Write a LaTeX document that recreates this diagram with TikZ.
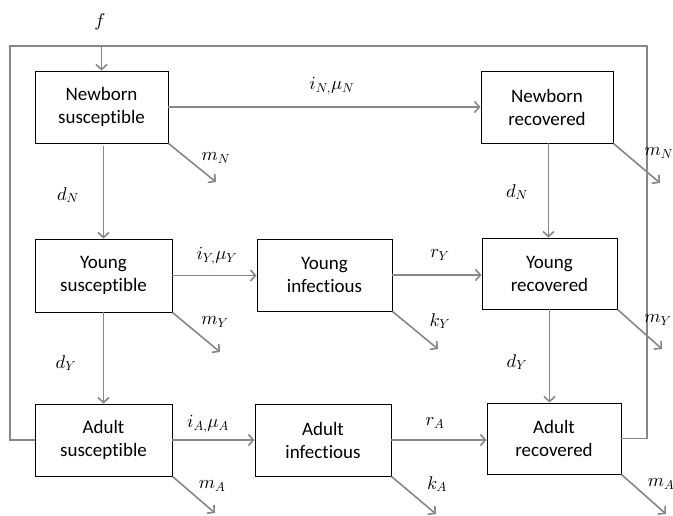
\documentclass[tikz,border=0pt]{standalone}
\usepackage{fontspec}
\setmainfont{Carlito}[Ligatures=CommonOff]
\DeclareFontFamily{OML}{cmm}{\skewchar\font'177}
\DeclareFontShape{OML}{cmm}{m}{it}{<->cmmi10}{}
\DeclareFontFamily{OMS}{cmsy}{\skewchar\font'60}
\DeclareFontShape{OMS}{cmsy}{m}{n}{<->cmsy10}{}
\usetikzlibrary{arrows.meta,calc}
\definecolor{arrgray}{HTML}{878787}
\tikzset{
  box/.style={draw=black, line width=0.9pt, rectangle, inner sep=0pt, align=center,
    font=\fontsize{19}{23}\selectfont},
  flow/.style={draw=arrgray, line width=1.6pt, -{Straight Barb[length=5pt,width=11pt]}},
  loopline/.style={draw=arrgray, line width=1.6pt},
  lbl/.style={inner sep=0pt, font=\fontsize{18.5}{21}\selectfont}
}
\begin{document}
\begin{tikzpicture}[x=1pt,y=-1pt]
\useasboundingbox (0,0) rectangle (673,515);
% boxes
\node[box, minimum width=133pt, minimum height=72pt] (NS) at (101.5,107) {Newborn\\susceptible};
\node[box, minimum width=132pt, minimum height=72pt] (NR) at (547,107) {Newborn\\recovered};
\node[box, minimum width=137pt, minimum height=73pt] (YS) at (103.5,275.5) {Young\\susceptible};
\node[box, minimum width=135pt, minimum height=72pt] (YI) at (324.5,275) {Young\\infectious};
\node[box, minimum width=135pt, minimum height=71pt] (YR) at (549.5,273.5) {Young\\recovered};
\node[box, minimum width=137pt, minimum height=72pt] (AS) at (103.5,440) {Adult\\susceptible};
\node[box, minimum width=136pt, minimum height=72pt] (AI) at (323,440) {Adult\\infectious};
\node[box, minimum width=134pt, minimum height=71pt] (AR) at (554,438.5) {Adult\\recovered};
% loop corners and free ends
\coordinate (c1) at (10,46);
\coordinate (c2) at (647,46);
\coordinate (eNSm) at (216,182);
\coordinate (eNRm) at (660,183);
\coordinate (eYSm) at (220,352);
\coordinate (eYIk) at (438,349);
\coordinate (eYRm) at (662,349);
\coordinate (eASm) at (215,513);
\coordinate (eAIk) at (436,514);
\coordinate (eARm) at (666,514);
% feedback loop
\draw[loopline] (AS.west) -| (c1) -- (c2) |- (AR.east);
\draw[flow] (NS.north |- c1) -- (NS.north);
% horizontal flows
\draw[flow] (NS.east) -- (NR.west);
\draw[flow] (YS.east) -- (YS.east -| YI.west);
\draw[flow] (YI.east) -- (YI.east -| YR.west);
\draw[flow] (AS.east) -- (AS.east -| AI.west);
\draw[flow] (AI.east) -- (AI.east -| AR.west);
% vertical flows
\draw[flow, shorten <=3pt] ([xshift=2pt]NS.south) -- ([xshift=2pt]NS.south |- YS.north);
\draw[flow] ([xshift=1.5pt]NR.south) -- ([xshift=1.5pt]NR.south |- YR.north);
\draw[flow] (YS.south) -- (YS.south |- AS.north);
\draw[flow] (YR.south) -- (YR.south |- AR.north);
% mortality flows
\draw[flow] (NS.south east) -- (eNSm);
\draw[flow] (NR.south east) -- (eNRm);
\draw[flow] (YS.south east) -- (eYSm);
\draw[flow] (YI.south east) -- (eYIk);
\draw[flow] (YR.south east) -- (eYRm);
\draw[flow] (AS.south east) -- (eASm);
\draw[flow] (AI.south east) -- (eAIk);
\draw[flow] (AR.south east) -- (eARm);
% labels
\node[lbl] (lf) at (100,22) {$f$};
\node[lbl] (liN) at (332,86) {$i_{N,}\mu_N$};
\node[lbl] (lmN1) at (216,158) {$m_N$};
\node[lbl] (lmN2) at (659,153) {$m_N$};
\node[lbl] (ldN1) at (68,195) {$d_N$};
\node[lbl] (ldN2) at (517,192) {$d_N$};
\node[lbl] (liY) at (217,256) {$i_{Y,}\mu_Y$};
\node[lbl] (lrY) at (440,255) {$r_Y$};
\node[lbl] (lmY1) at (215,322) {$m_Y$};
\node[lbl] (lkY) at (440,321) {$k_Y$};
\node[lbl] (lmY2) at (658,320) {$m_Y$};
\node[lbl] (ldY1) at (66,363) {$d_Y$};
\node[lbl] (ldY2) at (517,362) {$d_Y$};
\node[lbl] (liA) at (208,424) {$i_{A,}\mu_A$};
\node[lbl] (lrA) at (435,423) {$r_A$};
\node[lbl] (lmA1) at (212,486) {$m_A$};
\node[lbl] (lkA) at (437,484) {$k_A$};
\node[lbl] (lmA2) at (661,484) {$m_A$};
\end{tikzpicture}
\end{document}
